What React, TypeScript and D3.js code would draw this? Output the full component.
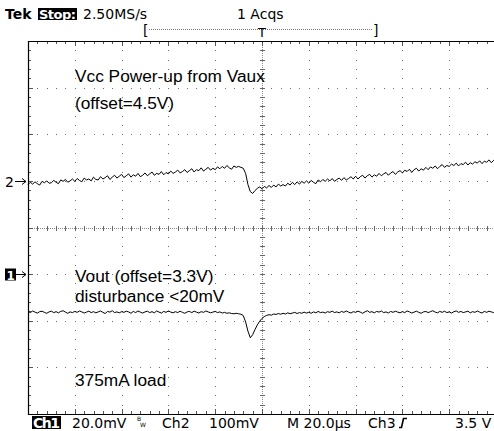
import { FC } from "react";
import * as d3 from "d3";

// timebase: 20us/div, 10 divisions, trigger at centre, one sample every 1us
const timeUs = d3.range(-100, 101, 1);

// Ch2 (100mV/div), mV relative to its marker
const ch2mV = [
  -8, -3, -7, -2, -6, -9, -1, -4, 0, -5,
  -4, 1, -3, -6, 2, -1, 3, -3, 0, 4,
  -1, 5, 1, -2, 6, 2, 4, 0, 8, 3,
  2, 9, 4, 7, 11, 3, 8, 12, 6, 10,
  14, 7, 11, 15, 8, 13, 10, 16, 9, 12,
  17, 11, 15, 19, 12, 16, 14, 20, 13, 18,
  15, 21, 16, 19, 23, 17, 20, 24, 18, 22,
  26, 19, 24, 22, 28, 21, 25, 29, 23, 27,
  24, 30, 26, 31, 27, 33, 28, 25, 32, 29,
  31, 29, 27, 16, -8, -23, -27, -21, -16, -13,
  -17, -12, -15, -10, -14, -9, -13, -7, -11, -8,
  -11, -5, -9, -3, -8, -2, -7, -1, -5, 0,
  -5, 1, -3, -6, 2, -2, 3, -1, 4, 0,
  5, -1, 3, 6, 1, 7, 2, 5, 9, 4,
  10, 4, 9, 12, 6, 11, 14, 8, 13, 10,
  16, 11, 15, 18, 12, 17, 20, 14, 19, 22,
  17, 23, 20, 25, 18, 24, 27, 21, 26, 23,
  29, 24, 30, 27, 32, 26, 31, 35, 29, 33,
  31, 36, 33, 38, 32, 37, 35, 40, 34, 39,
  36, 41, 38, 43, 37, 42, 40, 45, 39, 44, 42,
];

// Ch1 (20mV/div), mV relative to its marker
const ch1mV = [
  -16.0, -16.5, -15.8, -16.3, -16.7, -16.1, -15.9, -16.4, -16.8, -16.2,
  -15.9, -16.5, -16.1, -16.6, -16.0, -15.7, -16.3, -16.8, -16.2, -16.5,
  -16.0, -16.4, -15.8, -16.2, -16.7, -16.3, -15.9, -16.5, -16.1, -16.6,
  -16.2, -15.8, -16.4, -16.9, -16.0, -16.3, -15.7, -16.5, -16.2, -16.6,
  -16.1, -16.4, -15.9, -16.2, -16.8, -16.0, -16.5, -15.8, -16.3, -16.7,
  -16.2, -15.9, -16.5, -16.1, -16.6, -15.8, -16.3, -16.7, -16.0, -16.4,
  -15.8, -16.3, -16.6, -16.1, -16.5, -15.9, -16.4, -16.8, -16.2, -16.0,
  -16.5, -15.9, -16.3, -16.7, -16.1, -16.4, -15.8, -16.2, -16.6, -16.3,
  -16.0, -16.5, -16.2, -16.7, -16.4, -16.8, -16.6, -16.9, -17.0, -16.8,
  -17.0, -17.2, -17.8, -20.5, -24.5, -27.3, -26.0, -23.8, -21.8, -20.2,
  -19.0, -18.2, -17.7, -17.4, -17.6, -17.1, -17.3, -16.9, -17.2, -16.8,
  -17.1, -16.6, -17.0, -16.7, -16.4, -16.9, -16.5, -16.8, -16.3, -16.7,
  -16.4, -16.8, -16.2, -16.6, -16.0, -16.5, -16.3, -16.7, -16.1, -16.4,
  -15.9, -16.5, -16.2, -16.6, -16.0, -16.4, -15.8, -16.3, -16.7, -16.1,
  -16.4, -15.9, -16.3, -16.8, -16.2, -15.7, -16.4, -16.1, -16.6, -16.0,
  -16.3, -15.8, -16.5, -16.2, -16.7, -16.0, -16.4, -15.9, -16.3, -16.6,
  -16.1, -16.5, -15.8, -16.2, -16.7, -16.3, -15.9, -16.4, -16.8, -16.2,
  -16.0, -16.5, -16.1, -15.7, -16.3, -16.6, -16.0, -16.4, -15.9, -16.5,
  -16.2, -16.7, -16.1, -15.8, -16.4, -16.0, -16.5, -16.2, -15.9, -16.6,
  -16.1, -16.4, -15.8, -16.3, -16.7, -16.0, -16.4, -15.9, -16.2, -16.5, -16.0,
];

const ch2Notes = ["Vcc Power-up from Vaux", "(offset=4.5V)"];
const ch1Notes = ["Vout (offset=3.3V)", "disturbance <20mV"];
const loadNote = "375mA load";

const W = 494;
const H = 431;
const left = 28;
const top = 41;
const bottom = 414;
const divW = 46.8;

const x = d3.scaleLinear([-100, 100], [left, left + 10 * divW]);
const yDiv = d3.scaleLinear([-4, 4], [bottom, top]);
const ch2Pos = 1;
const ch1Pos = -1;
const y2 = (mv: number) => yDiv(ch2Pos + mv / 100);
const y1 = (mv: number) => yDiv(ch1Pos + mv / 20);

const line2 = d3
  .line<number>()
  .x((_, i) => x(timeUs[i]))
  .y((d) => y2(d));
const line1 = d3
  .line<number>()
  .x((_, i) => x(timeUs[i]))
  .y((d) => y1(d));

const Graticule: FC = () => {
  const minorX = d3.range(0, 51).map((k) => x(-100 + k * 4));
  const minorY = d3.range(0, 41).map((k) => yDiv(-4 + k * 0.2));
  const majorX = d3.range(1, 10).filter((k) => k !== 5).map((k) => x(-100 + k * 20));
  const majorY = d3.range(1, 8).filter((k) => k !== 4).map((k) => yDiv(-4 + k));
  const cx = Math.round(x(0)) + 0.5;
  const cy = Math.round(yDiv(0)) + 0.5;
  const dots: JSX.Element[] = [];
  majorX.forEach((gx, i) =>
    minorY.forEach((gy, j) =>
      dots.push(
        <rect key={`v${i}-${j}`} x={Math.round(gx)} y={Math.round(gy)} width={1} height={1} fill="#6e6e6e" />
      )
    )
  );
  majorY.forEach((gy, i) =>
    minorX.forEach((gx, j) =>
      dots.push(
        <rect key={`h${i}-${j}`} x={Math.round(gx)} y={Math.round(gy)} width={1} height={1} fill="#6e6e6e" />
      )
    )
  );
  return (
    <g>
      {dots}
      <line x1={cx} x2={cx} y1={top} y2={bottom} stroke="#888" strokeDasharray="1,1" />
      <line x1={left} x2={W + 4} y1={cy} y2={cy} stroke="#888" strokeDasharray="1,1" />
      {minorY.map((gy, i) => (
        <line key={`cyt${i}`} x1={cx - 2.5} x2={cx + 2.5} y1={Math.round(gy) + 0.5} y2={Math.round(gy) + 0.5} stroke="#666" />
      ))}
      {minorX.map((gx, i) => (
        <line key={`cxt${i}`} x1={Math.round(gx) + 0.5} x2={Math.round(gx) + 0.5} y1={cy - 2.5} y2={cy + 2.5} stroke="#666" />
      ))}
      {minorX.map((gx, i) => (
        <g key={`bt${i}`}>
          <line x1={Math.round(gx) + 0.5} x2={Math.round(gx) + 0.5} y1={top} y2={top + (i % 5 === 0 ? 5 : 3)} stroke="#555" />
          <line x1={Math.round(gx) + 0.5} x2={Math.round(gx) + 0.5} y1={bottom} y2={bottom - (i % 5 === 0 ? 5 : 3)} stroke="#555" />
        </g>
      ))}
      {minorY.map((gy, i) => (
        <line key={`lt${i}`} x1={left} x2={left + (i % 5 === 0 ? 5 : 3)} y1={Math.round(gy) + 0.5} y2={Math.round(gy) + 0.5} stroke="#555" />
      ))}
      <path
        d={`M${W + 4},${top + 0.5}H${left + 0.5}V${bottom + 0.5}H${W + 4}`}
        fill="none"
        stroke="#000"
        strokeWidth={1.2}
      />
    </g>
  );
};

const statusFont = "DejaVu Sans, sans-serif";
const noteFont = "Liberation Sans, Arial, sans-serif";

const App: FC = () => {
  const m2 = Math.round(y2(0)) + 0.5;
  const m1 = Math.round(y1(0)) + 0.5;
  return (
    <svg
      width={W}
      height={H}
      viewBox={`0 0 ${W} ${H}`}
      style={{ position: "absolute", left: 0, top: 0, background: "#fff" }}
    >
      <rect width={W} height={H} fill="#fff" />
      {/* header */}
      <g fontFamily={statusFont} fontSize={14} fill="#000">
        <text x={5} y={19} fontWeight="bold">Tek</text>
        <rect x={38} y={8} width={39} height={12} fill="#000" />
        <text x={39} y={19} fill="#fff" fontWeight="bold" fontSize={13} textLength={37}>Stop:</text>
        <text x={83} y={19}>2.50MS/s</text>
        <text x={237} y={19}>1 Acqs</text>
        <text x={143} y={35}>[</text>
        <text x={373} y={35}>]</text>
        <line x1={149} x2={373} y1={29.5} y2={29.5} stroke="#777" strokeDasharray="1,1" />
        <text x={262} y={37} textAnchor="middle" fontSize={13}>T</text>
      </g>

      <Graticule />

      {/* traces */}
      <path d={line2(ch2mV) ?? ""} fill="none" stroke="#000" strokeWidth={1} />
      <path d={line1(ch1mV) ?? ""} fill="none" stroke="#000" strokeWidth={1} />

      {/* channel markers */}
      <g fontFamily={statusFont} fontSize={14}>
        <text x={5} y={m2 + 5}>2</text>
        <path d={`M15,${m2}H26M22,${m2 - 3}L26,${m2}L22,${m2 + 3}`} fill="none" stroke="#000" />
        <rect x={5} y={m1 - 6} width={11} height={12} fill="#000" />
        <text x={6.5} y={m1 + 5} fill="#fff" fontSize={12} fontWeight="bold">1</text>
        <path d={`M16,${m1}H26M22,${m1 - 3}L26,${m1}L22,${m1 + 3}`} fill="none" stroke="#000" />
      </g>

      {/* annotations */}
      <g fontFamily={noteFont} fontSize={17.3} fill="#000">
        <text x={75} y={82}>{ch2Notes[0]}</text>
        <text x={75} y={109}>{ch2Notes[1]}</text>
        <text x={75} y={282}>{ch1Notes[0]}</text>
        <text x={75} y={302}>{ch1Notes[1]}</text>
        <text x={75} y={386}>{loadNote}</text>
      </g>

      {/* status line */}
      <g fontFamily={statusFont} fontSize={14} fill="#000">
        <rect x={32} y={416} width={29} height={13} fill="#000" />
        <text x={33} y={428} fill="#fff" fontWeight="bold" textLength={27}>Ch1</text>
        <text x={72} y={428}>20.0mV</text>
        <text x={137} y={421} fontSize={6}>B</text>
        <text x={140} y={427} fontSize={6}>W</text>
        <text x={162} y={428}>Ch2</text>
        <text x={209} y={428}>100mV</text>
        <text x={287} y={428}>M 20.0µs</text>
        <text x={368} y={428}>Ch3</text>
        <path d="M399,427.5H401.5L403.5,418.5H407" fill="none" stroke="#000" strokeWidth={1.6} />
        <text x={455} y={428}>3.5 V</text>
      </g>
    </svg>
  );
};

export default App;
